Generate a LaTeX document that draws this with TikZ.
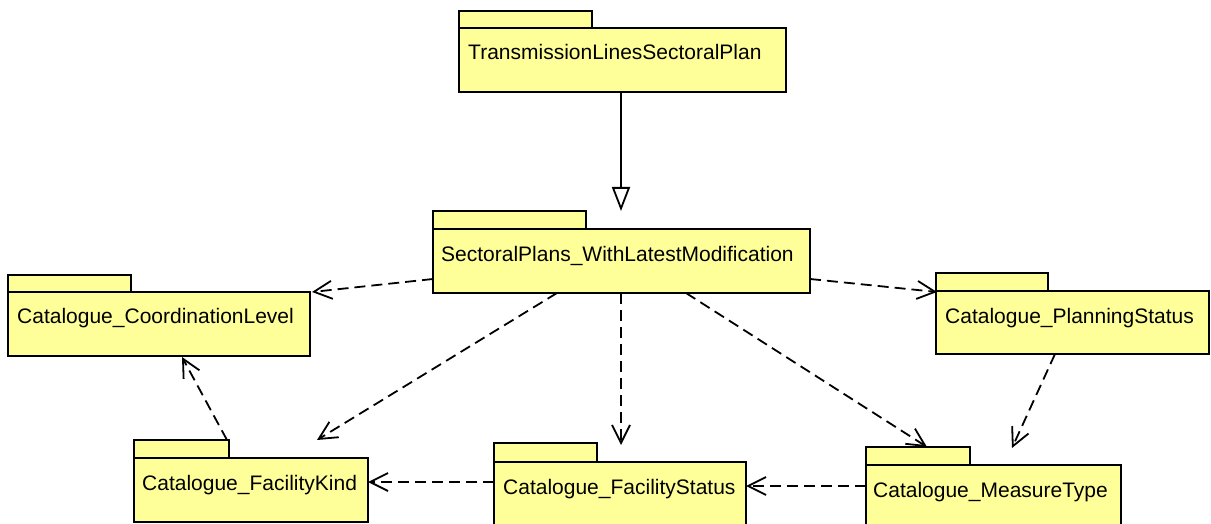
\documentclass[tikz,border=0pt]{standalone}
\usepackage{fontspec}
\setmainfont{Liberation Sans}
\usetikzlibrary{arrows.meta}
\definecolor{pkgfill}{RGB}{255,255,153}
\tikzset{
  pkgbody/.style={draw=black, fill=pkgfill, line width=2pt, rectangle, inner sep=0pt, outer sep=0pt, anchor=north west},
  pkgtab/.style={draw=black, fill=pkgfill, line width=2pt, rectangle, inner sep=0pt, outer sep=0pt, anchor=north west},
  pkgtext/.style={anchor=base west, inner sep=0pt, font=\fontsize{21pt}{25pt}\selectfont},
  dep/.style={line width=1.8pt, dash pattern=on 11pt off 6pt, -{Straight Barb[length=18pt,width=18pt,line width=1.8pt]}},
  gen/.style={line width=1.8pt, -{Triangle[open,length=24pt,width=18pt,line width=1.8pt,fill=white]}}
}
\begin{document}
\begin{tikzpicture}[x=1pt,y=-1pt]
\useasboundingbox[fill=white] (0,0) rectangle (1211,524);

% TransmissionLinesSectoralPlan
\node[pkgtab, minimum width=133pt, minimum height=17pt] (tlt) at (459,11) {};
\node[pkgbody, minimum width=327pt, minimum height=64pt] (tl) at (459,28) {};
\node[pkgtext] (tlx) at (468,60) {TransmissionLinesSectoralPlan};

% SectoralPlans_WithLatestModification
\node[pkgtab, minimum width=153pt, minimum height=18pt] (spt) at (433,211) {};
\node[pkgbody, minimum width=377pt, minimum height=64pt] (sp) at (433,229) {};
\node[pkgtext] (spx) at (441,261) {SectoralPlans\_WithLatestModification};

% Catalogue_CoordinationLevel
\node[pkgtab, minimum width=123pt, minimum height=17pt] (clt) at (8,275) {};
\node[pkgbody, minimum width=302pt, minimum height=64pt] (cl) at (8,292) {};
\node[pkgtext] (clx) at (17,323) {Catalogue\_CoordinationLevel};

% Catalogue_PlanningStatus
\node[pkgtab, minimum width=112pt, minimum height=18pt] (pst) at (936,273) {};
\node[pkgbody, minimum width=273pt, minimum height=63pt] (ps) at (936,291) {};
\node[pkgtext] (psx) at (945,323) {Catalogue\_PlanningStatus};

% Catalogue_FacilityKind
\node[pkgtab, minimum width=95pt, minimum height=18pt] (fkt) at (134,440) {};
\node[pkgbody, minimum width=234pt, minimum height=64pt] (fk) at (134,458) {};
\node[pkgtext] (fkx) at (142,490) {Catalogue\_FacilityKind};

% Catalogue_FacilityStatus
\node[pkgtab, minimum width=103pt, minimum height=19pt] (fst) at (494,443) {};
\node[pkgbody, minimum width=252pt, minimum height=70pt] (fs) at (494,462) {};
\node[pkgtext] (fsx) at (503,494) {Catalogue\_FacilityStatus};

% Catalogue_MeasureType
\node[pkgtab, minimum width=104pt, minimum height=18pt] (mtt) at (866,447) {};
\node[pkgbody, minimum width=255pt, minimum height=70pt] (mt) at (866,465) {};
\node[pkgtext] (mtx) at (873,497) {Catalogue\_MeasureType};

% generalization
\draw[gen] ([xshift=162pt]tl.south west) -- ([xshift=188pt,yshift=18pt]sp.north west);

% dependencies
\draw[dep] ([yshift=-50pt]sp.north west) -- ([xshift=2pt]cl.north east);
\draw[dep] ([xshift=124pt]sp.south west) -- ([xshift=183pt]fkt.north west);
\draw[dep] ([xshift=188pt]sp.south west) -- ([xshift=127pt,yshift=-2pt]fst.north west);
\draw[dep] ([xshift=253pt]sp.south west) -- ([xshift=61pt]mtt.north west);
\draw[dep] ([yshift=-50pt]sp.north east) -- ([xshift=1pt,yshift=-1pt]ps.north west);
\draw[dep] ([xshift=119pt]ps.south west) -- ([xshift=146pt,yshift=-1pt]mtt.north west);
\draw[dep] ([yshift=-21pt]mt.north west) -- ([yshift=-24pt]fs.north east);
\draw[dep] ([yshift=-20pt]fs.north west) -- ([yshift=-24pt]fk.north east);
\draw[dep] ([xshift=93pt]fkt.north west) -- ([xshift=174pt,yshift=-1pt]cl.south west);
\end{tikzpicture}
\end{document}
